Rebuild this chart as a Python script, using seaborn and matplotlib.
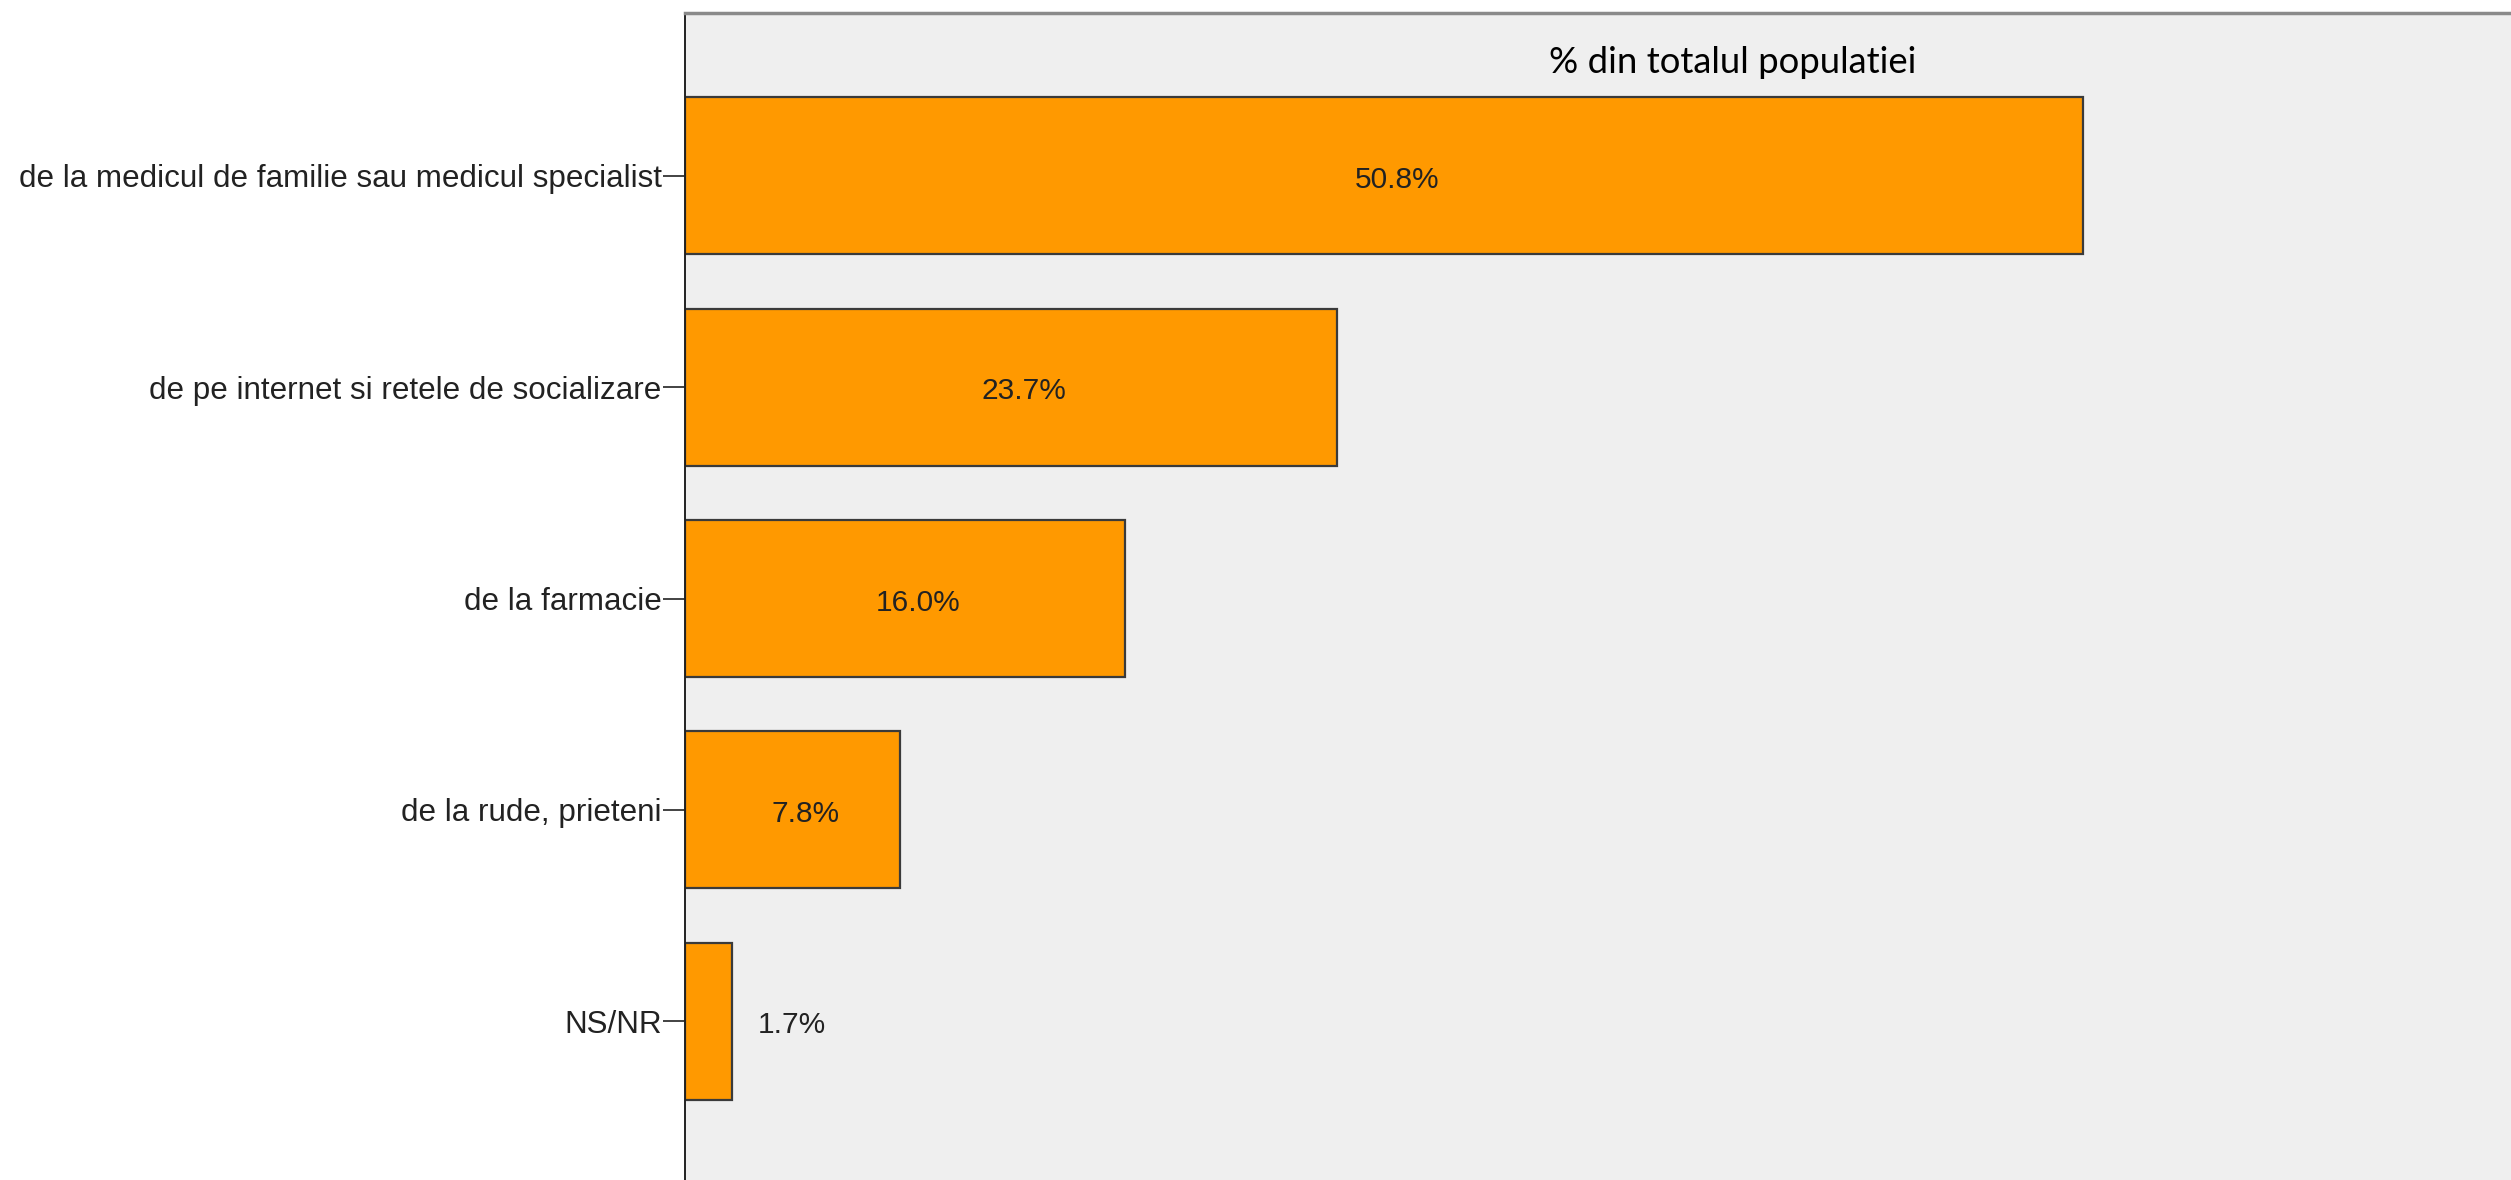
import matplotlib
matplotlib.use("Agg")
import matplotlib.pyplot as plt
import seaborn as sns
import pandas as pd

categories = [
    "de la medicul de familie sau medicul specialist",
    "de pe internet si retele de socializare",
    "de la farmacie",
    "de la rude, prieteni",
    "NS/NR",
]
values = [50.8, 23.7, 16.0, 7.8, 1.7]
value_labels = ["50.8%", "23.7%", "16.0%", "7.8%", "1.7%"]
header_text = "% din totalul populatiei"

df = pd.DataFrame({"cat": categories, "pct": values})

sns.set_theme(style="white")
plt.rcParams["font.family"] = ["Liberation Sans", "DejaVu Sans"]

W, H = 2511, 1180
fig = plt.figure(figsize=(W / 100, H / 100), dpi=100)
fig.patch.set_facecolor("white")
left_px, top_px = 685, 13
ax = fig.add_axes([left_px / W, 0.0, 1 - left_px / W, 1 - top_px / H])
ax.set_facecolor("#EFEFEF")

sns.barplot(data=df, x="pct", y="cat", orient="h", color="#FF9900",
            saturation=1, edgecolor="#3a3a3a", linewidth=1.6, width=0.743,
            ax=ax)

ax.set_xlim(0, 66.35)
ax.set_ylim(4.752, -0.771)
ax.set_xlabel("")
ax.set_ylabel("")
ax.set_xticks([])

ax.tick_params(axis="y", which="major", left=True, length=15.8, width=1.2,
               color="#222222", pad=1, labelsize=22.6, labelcolor="#222222")

for s in ["right", "bottom"]:
    ax.spines[s].set_visible(False)
ax.spines["left"].set_color("#222222")
ax.spines["left"].set_linewidth(1.4)
ax.spines["top"].set_color("#8a8a8a")
ax.spines["top"].set_linewidth(2.5)

for i, (v, lab) in enumerate(zip(values, value_labels)):
    if v > 5:
        x = v / 2 + 0.47
    else:
        x = v + 2.2
    ax.text(x, i + 0.02, lab, ha="center", va="center", fontsize=21.5,
            color="#222222")

fig.text(1733 / W, 1 - 73 / H, header_text, ha="center", va="baseline",
         fontsize=26.3, family=["Lato", "DejaVu Sans"], color="black")

fig.savefig("out.png", dpi=100, facecolor="white")
